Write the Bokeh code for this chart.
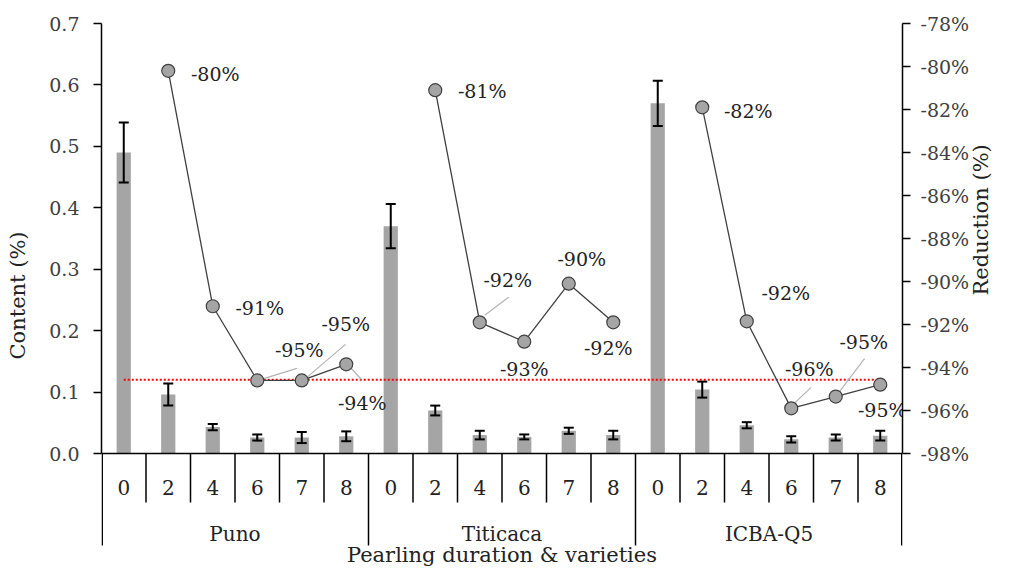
import math
from bokeh.plotting import figure
from bokeh.models import (ColumnDataSource, Range1d, LinearAxis, FixedTicker,
                          PrintfTickFormatter, Whisker, TeeHead, Span)
from bokeh.core.properties import value
from bokeh.embed import file_html
from bokeh.resources import INLINE

# ---------------- data ----------------
varieties = ["Puno", "Titicaca", "ICBA-Q5"]
durations = ["0", "2", "4", "6", "7", "8"]

content_puno = [0.490, 0.096, 0.043, 0.026, 0.026, 0.028]
content_titicaca = [0.370, 0.070, 0.030, 0.027, 0.037, 0.030]
content_icba = [0.570, 0.104, 0.046, 0.023, 0.026, 0.029]

err_puno = [0.049, 0.018, 0.005, 0.005, 0.009, 0.008]
err_titicaca = [0.036, 0.008, 0.007, 0.004, 0.005, 0.007]
err_icba = [0.037, 0.013, 0.005, 0.005, 0.005, 0.008]

# reduction vs. duration 0 (for durations 2, 4, 6, 7, 8)
reduction_puno = [-80.2, -91.15, -94.6, -94.6, -93.85]
reduction_titicaca = [-81.1, -91.9, -92.8, -90.1, -91.9]
reduction_icba = [-81.9, -91.85, -95.9, -95.35, -94.8]

threshold = 0.12

content_ticks = [0.0, 0.1, 0.2, 0.3, 0.4, 0.5, 0.6, 0.7]
reduction_ticks = [-78, -80, -82, -84, -86, -88, -90, -92, -94, -96, -98]

# ---------------- layout / style ----------------
FONT = "DejaVu Serif"
W, H = 1008, 567
BORDER_L, BORDER_R, BORDER_T = 101, 101, 23
FRAME_W = W - BORDER_L - BORDER_R
FRAME_H = H - BORDER_T
PX_PER_CONTENT = 430 / 0.7
PX_PER_RED = 430 / 20.0
PX_PER_CAT = FRAME_W / 18.0
AXIS_DROP = 522           # px from frame top where axis lines end
SEP_SHORT = 49            # px length of category separators
BAR_COLOR = "#a5a5a5"
LINE_COLOR = "#404040"
TEXT_COLOR = "#222222"
TICK_COLOR = "#404040"

# label offsets (px) relative to each reduction point: (dx, dy)
label_offsets = [
    [(47, 3), (47, 2), (42, -30), (44, -56), (16, 39)],
    [(47, 1), (28, -42), (0, 27), (13, -25), (-5, 26)],
    [(46, 4), (39, -28), (18, -39), (28, -55), (2, 25)],
]
# leader lines (px) relative to the point: (x0, y0, x1, y1) or None
leaders = [
    [None, None, (4, -1, 40, -12), (4, -2, 44, -36), (5, 4, 15, 15)],
    [None, (5, -7, 29, -25), None, None, None],
    [None, None, (3, -5, 20, -21), (3, -4, 29, -38), None],
]

contents = [content_puno, content_titicaca, content_icba]
errors = [err_puno, err_titicaca, err_icba]
reductions = [reduction_puno, reduction_titicaca, reduction_icba]

n_dur = len(durations)
n_cat = n_dur * len(varieties)

y0 = content_ticks[-1] - FRAME_H / PX_PER_CONTENT
r0 = reduction_ticks[0] - FRAME_H / PX_PER_RED
axis_end = content_ticks[-1] - AXIS_DROP / PX_PER_CONTENT

p = figure(width=W, height=H,
           min_border_left=BORDER_L, min_border_right=BORDER_R, min_border_top=BORDER_T,
           min_border_bottom=0,
           x_range=Range1d(0, n_cat), y_range=Range1d(y0, content_ticks[-1]),
           x_axis_type=None, y_axis_type=None,
           output_backend="svg", toolbar_location=None)
p.outline_line_color = None
p.background_fill_color = "white"
p.border_fill_color = "white"
p.extra_y_ranges = {"red": Range1d(r0, reduction_ticks[0])}

# ---------- axes ----------
left = LinearAxis(ticker=FixedTicker(ticks=content_ticks),
                  formatter=PrintfTickFormatter(format="%.1f"),
                  axis_label="Content (%)",
                  bounds=(content_ticks[0], content_ticks[-1]))
right = LinearAxis(y_range_name="red", ticker=FixedTicker(ticks=reduction_ticks),
                   formatter=PrintfTickFormatter(format="%d%%"),
                   axis_label="Reduction (%)",
                   bounds=(reduction_ticks[-1], reduction_ticks[0]))
for ax in (left, right):
    ax.major_tick_in = 0
    ax.major_tick_out = 8
    ax.minor_tick_line_color = None
    ax.major_label_standoff = 14
    ax.axis_line_color = "black"
    ax.axis_line_width = 1.5
    ax.major_tick_line_color = "black"
    ax.major_tick_line_width = 1.5
    ax.major_label_text_font = FONT
    ax.major_label_text_font_size = "19px"
    ax.major_label_text_color = TICK_COLOR
    ax.axis_label_text_font = FONT
    ax.axis_label_text_font_size = "21px"
    ax.axis_label_text_font_style = "normal"
    ax.axis_label_text_color = TEXT_COLOR
left.axis_label_standoff = 16
right.major_label_standoff = 10
right.axis_label_standoff = 9
try:
    right.axis_label_orientation = math.pi / 2
except Exception:
    pass
p.add_layout(left, "left")
p.add_layout(right, "right")

# axis line extensions below the baseline (down to the group labels)
edge = 0.75 / PX_PER_CAT
p.segment(x0=[edge, n_cat - edge], y0=[0, 0], x1=[edge, n_cat - edge],
          y1=[axis_end, axis_end], line_color="black", line_width=1.5)

# baseline
p.add_layout(Span(location=0, dimension="width", line_color="black", line_width=1.5))

# ---------- bars ----------
xs, tops, lo, hi = [], [], [], []
for g, (c, e) in enumerate(zip(contents, errors)):
    for i in range(n_dur):
        xs.append(g * n_dur + i + 0.5)
        tops.append(c[i])
        lo.append(c[i] - e[i])
        hi.append(c[i] + e[i])
bars = ColumnDataSource(dict(x=xs, top=tops, lower=lo, upper=hi))
p.vbar(x="x", top="top", width=0.32, bottom=0, source=bars,
       fill_color=BAR_COLOR, line_color=None)
p.add_layout(Whisker(base="x", lower="lower", upper="upper", source=bars, level="glyph",
                     line_color="black", line_width=2,
                     upper_head=TeeHead(size=10, line_color="black", line_width=2),
                     lower_head=TeeHead(size=10, line_color="black", line_width=2)))

# threshold line
p.segment(x0=[0.5], y0=[threshold], x1=[n_cat - 0.4], y1=[threshold],
          line_color="red", line_width=2, line_dash="2 2")

# ---------- reduction lines ----------
for g, red in enumerate(reductions):
    rx = [g * n_dur + i + 0.5 for i in range(1, n_dur)]
    p.line(rx, red, y_range_name="red", line_color=LINE_COLOR, line_width=1.3)
    lx0, ly0, lx1, ly1 = [], [], [], []
    for k, ld in enumerate(leaders[g]):
        if ld is None:
            continue
        lx0.append(rx[k] + ld[0] / PX_PER_CAT)
        ly0.append(red[k] - ld[1] / PX_PER_RED)
        lx1.append(rx[k] + ld[2] / PX_PER_CAT)
        ly1.append(red[k] - ld[3] / PX_PER_RED)
    if lx0:
        p.segment(lx0, ly0, lx1, ly1, y_range_name="red",
                  line_color="#b3b3b3", line_width=1.2)
    p.scatter(rx, red, y_range_name="red", size=13, fill_color=BAR_COLOR,
              line_color=LINE_COLOR, line_width=1.2)
    src = ColumnDataSource(dict(
        x=rx, y=red, t=["%d%%" % round(v) for v in red],
        dx=[o[0] for o in label_offsets[g]], dy=[o[1] for o in label_offsets[g]]))
    p.text(x="x", y="y", text="t", x_offset="dx", y_offset="dy", source=src,
           y_range_name="red", text_align="center", text_baseline="middle",
           text_font=value(FONT), text_font_size="19px", text_color=TEXT_COLOR)

# ---------- categorical axis drawn below the baseline ----------
sep_x, sep_y1 = [], []
for k in range(1, n_cat):
    sep_x.append(k)
    sep_y1.append(axis_end if k % n_dur == 0 else -SEP_SHORT / PX_PER_CONTENT)
p.segment(x0=sep_x, y0=[0] * len(sep_x), x1=sep_x, y1=sep_y1,
          line_color="black", line_width=1.5)

cat_src = ColumnDataSource(dict(
    x=[g * n_dur + i + 0.5 for g in range(len(varieties)) for i in range(n_dur)],
    y=[0] * n_cat,
    t=durations * len(varieties)))
p.text(x="x", y="y", text="t", source=cat_src, y_offset=34,
       text_align="center", text_baseline="middle",
       text_font=value(FONT), text_font_size="20px", text_color=TEXT_COLOR)

grp_src = ColumnDataSource(dict(
    x=[g * n_dur + n_dur / 2 for g in range(len(varieties))],
    y=[0] * len(varieties), t=varieties))
p.text(x="x", y="y", text="t", source=grp_src, y_offset=80,
       text_align="center", text_baseline="middle",
       text_font=value(FONT), text_font_size="20px", text_color=TEXT_COLOR)

p.text(x=[n_cat / 2], y=[0], text=["Pearling duration & varieties"], y_offset=101,
       text_align="center", text_baseline="middle",
       text_font=value(FONT), text_font_size="21px", text_color=TEXT_COLOR)

open("out.html", "w").write(file_html(p, INLINE))
